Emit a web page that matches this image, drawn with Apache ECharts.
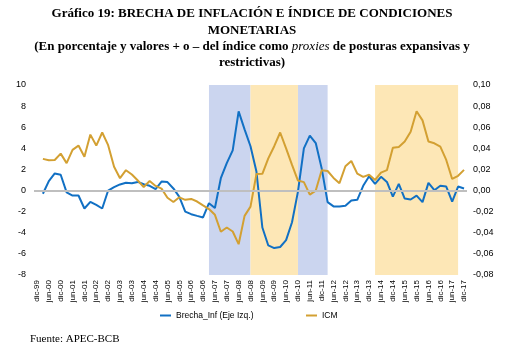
<!DOCTYPE html>
<html>
<head>
<meta charset="utf-8">
<script src="https://cdn.jsdelivr.net/npm/echarts@6/dist/echarts.min.js"></script>
<style>
  html, body { margin: 0; padding: 0; background: #fff; }
  #chart { width: 527px; height: 354px; }
</style>
</head>
<body>
<div id="chart"></div>
<script>
// trimestres, dic-99 .. dic-17
var categories = [
  "dic-99",
  "mar-00", "jun-00", "sep-00", "dic-00",
  "mar-01", "jun-01", "sep-01", "dic-01",
  "mar-02", "jun-02", "sep-02", "dic-02",
  "mar-03", "jun-03", "sep-03", "dic-03",
  "mar-04", "jun-04", "sep-04", "dic-04",
  "mar-05", "jun-05", "sep-05", "dic-05",
  "mar-06", "jun-06", "sep-06", "dic-06",
  "mar-07", "jun-07", "sep-07", "dic-07",
  "mar-08", "jun-08", "sep-08", "dic-08",
  "mar-09", "jun-09", "sep-09", "dic-09",
  "mar-10", "jun-10", "sep-10", "dic-10",
  "mar-11", "jun-11", "sep-11", "dic-11",
  "mar-12", "jun-12", "sep-12", "dic-12",
  "mar-13", "jun-13", "sep-13", "dic-13",
  "mar-14", "jun-14", "sep-14", "dic-14",
  "mar-15", "jun-15", "sep-15", "dic-15",
  "mar-16", "jun-16", "sep-16", "dic-16",
  "mar-17", "jun-17", "sep-17", "dic-17"
];

// Brecha de inflación (eje izq., %)
var brecha = [
  null,
  -0.3, 0.9, 1.62, 1.5,
  -0.17, -0.47, -0.47, -1.7,
  -1.07, -1.36, -1.7, 0,
  0.32, 0.58, 0.74, 0.7,
  0.82, 0.6, 0.45, 0.14,
  0.85, 0.8, 0.2, -0.6,
  -2.0, -2.24, -2.4, -2.55,
  -1.2, -1.65, 1.17, 2.6,
  3.8, 7.5, 5.8, 4.2,
  1.8, -3.5, -5.2, -5.45,
  -5.35, -4.7, -3.0, -0.1,
  4.0, 5.2, 4.5, 2.1,
  -1.1, -1.5, -1.5, -1.45,
  -0.95, -0.88, 0.45, 1.35,
  0.63, 1.3, 0.82, -0.57,
  0.63, -0.76, -0.85, -0.48,
  -1.1, 0.73, 0.03, 0.45,
  0.38, -1.05, 0.38, 0.2
];

// Índice de condiciones monetarias (eje der.)
var icm = [
  null,
  0.030, 0.0287, 0.029, 0.035,
  0.026, 0.0385, 0.0426, 0.032,
  0.053, 0.0426, 0.055, 0.043,
  0.0225, 0.0117, 0.0193, 0.0152,
  0.0095, 0.0033, 0.009, 0.0044,
  0.0018, -0.0068, -0.0108, -0.0064,
  -0.0088, -0.0079, -0.0104, -0.014,
  -0.0175, -0.023, -0.039, -0.035,
  -0.0388, -0.0508, -0.024, -0.0152,
  0.0156, 0.0159, 0.0305, 0.042,
  0.055, 0.040, 0.0243, 0.0095,
  0.008, -0.0038, 0.0, 0.0193,
  0.0185, 0.012, 0.007, 0.023,
  0.028, 0.016, 0.013, 0.015,
  0.010, 0.017, 0.0193, 0.0405,
  0.0413, 0.0464, 0.0558, 0.0752,
  0.0665, 0.0464, 0.0448, 0.0416,
  0.029, 0.011, 0.014, 0.0196
];

// periodos sombreados (expansiva = azul, restrictiva = amarillo)
var bandsBlue = [["mar-07", "dic-08"], ["dic-10", "mar-12"]];
var bandsYellow = [["dic-08", "dic-10"], ["mar-14", "sep-17"]];

var blue = "#1170c4";
var gold = "#d3a032";
var sans = "'Liberation Sans', Arial, sans-serif";
var serif = "'Liberation Serif', 'Times New Roman', serif";

function toAreas(list, color) {
  return list.map(function (b) {
    return [{ xAxis: b[0], itemStyle: { color: color } }, { xAxis: b[1] }];
  });
}

var chart = echarts.init(document.getElementById("chart"));

var option = {
  animation: false,
  graphic: [
    {
      type: "text", x: 252, y: 22,
      style: {
        text: "Gráfico 19: BRECHA DE INFLACIÓN E ÍNDICE DE CONDICIONES\nMONETARIAS",
        font: "bold 13px " + serif, fill: "#000",
        textAlign: "center", textVerticalAlign: "middle", lineHeight: 17
      }
    },
    {
      type: "text", x: 252, y: 55,
      style: {
        text: "{b|(En porcentaje y valores + o – del índice como }{i|proxies}{b| de posturas expansivas y}\n{b|restrictivas)}",
        align: "center", verticalAlign: "middle",
        rich: {
          b: { font: "bold 13px " + serif, fill: "#000", lineHeight: 16 },
          i: { font: "italic 13px " + serif, fill: "#000", lineHeight: 16 }
        }
      }
    },
    {
      type: "text", x: 30, y: 339,
      style: { text: "Fuente: APEC-BCB", font: "11px " + serif, fill: "#000", textVerticalAlign: "middle" }
    }
  ],
  legend: [
    {
      data: ["Brecha_Inf (Eje Izq.)"], left: 155, top: 306,
      icon: "rect", itemWidth: 11, itemHeight: 2,
      textStyle: { fontFamily: sans, fontSize: 8.5, color: "#000" }
    },
    {
      data: ["ICM"], left: 301, top: 306,
      icon: "rect", itemWidth: 11, itemHeight: 2,
      textStyle: { fontFamily: sans, fontSize: 8.5, color: "#000" }
    }
  ],
  grid: { left: 34, right: 60, top: 85, bottom: 79 },
  xAxis: {
    type: "category",
    data: categories,
    boundaryGap: true,
    axisLine: { show: false },
    axisTick: { show: false },
    axisLabel: {
      interval: 1, rotate: 90, margin: 5,
      fontFamily: sans, fontSize: 8, color: "#000"
    }
  },
  yAxis: [
    {
      type: "value", min: -8, max: 10, interval: 2,
      axisLine: { show: false }, axisTick: { show: false },
      splitLine: { show: false },
      axisLabel: { fontFamily: sans, fontSize: 9, color: "#000", margin: 8 }
    },
    {
      type: "value", min: -0.08, max: 0.1, interval: 0.02,
      axisLine: { show: false }, axisTick: { show: false },
      splitLine: { show: false },
      axisLabel: {
        fontFamily: sans, fontSize: 9, color: "#000", margin: 6,
        formatter: function (v) { return v.toFixed(2).replace(".", ","); }
      }
    }
  ],
  series: [
    {
      name: "bandas",
      type: "line",
      data: [],
      silent: true,
      z: 1,
      markArea: {
        silent: true,
        data: toAreas(bandsBlue, "#cbd5ef").concat(toAreas(bandsYellow, "#fde7b6"))
      }
    },
    {
      name: "Brecha_Inf (Eje Izq.)",
      type: "line",
      data: brecha,
      yAxisIndex: 0,
      symbol: "none",
      z: 3,
      lineStyle: { color: blue, width: 2 },
      itemStyle: { color: blue },
      markLine: {
        silent: true, symbol: "none", label: { show: false },
        lineStyle: { color: "#bfbfbf", width: 2, type: "solid" },
        data: [{ yAxis: 0 }]
      }
    },
    {
      name: "ICM",
      type: "line",
      data: icm,
      yAxisIndex: 1,
      symbol: "none",
      z: 4,
      lineStyle: { color: gold, width: 2 },
      itemStyle: { color: gold }
    }
  ]
};

chart.setOption(option);
</script>
</body>
</html>
